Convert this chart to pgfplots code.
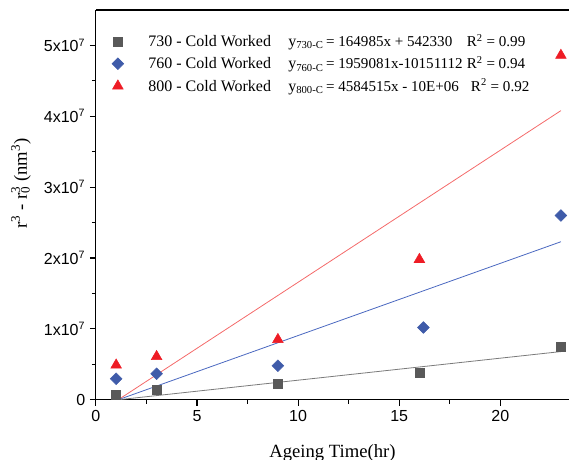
\documentclass[border=0pt]{standalone}
\usepackage{fontspec}
\setmainfont{Liberation Serif}
\setsansfont{Liberation Sans}
\usepackage{pgfplots}
\pgfplotsset{compat=1.18}

\definecolor{sqgrey}{HTML}{595959}
\definecolor{dmblue}{HTML}{3F5BA9}
\definecolor{trred}{HTML}{EE1C25}
\definecolor{lgrey}{HTML}{7A7A7A}
\definecolor{lblue}{HTML}{4A68C0}
\definecolor{lred}{HTML}{F46A6A}

% legend text: name, subscript, equation, gap, R^2
\newcommand{\ent}[5]{\hspace{16.5pt}#1\hspace{13pt}y\textsubscript{#2}{\fontsize{11.3}{12}\selectfont\,#3\hspace{#4}R\textsuperscript{2} = #5}}

\begin{document}
\begin{tikzpicture}
\begin{axis}[
  scale only axis,
  width=355pt, height=292.5pt,
  xmin=0, xmax=23.4,
  ymin=0, ymax=5.5e7,
  axis lines=left,
  axis line style={-, thick},
  tick align=outside,
  tick style={black, thick},
  major tick length=4.5pt,
  minor tick length=3pt,
  minor tick num=1,
  xtick={0,5,10,15,20},
  ytick={0,1e7,2e7,3e7,4e7,5e7},
  yticklabels={0,1x10\textsuperscript{7},2x10\textsuperscript{7},3x10\textsuperscript{7},4x10\textsuperscript{7},5x10\textsuperscript{7}},
  scaled y ticks=false,
  /pgf/number format/assume math mode=true,
  tick label style={font=\sffamily\fontsize{12}{14}\selectfont},
  xlabel={Ageing Time(hr)},
  ylabel={r\textsuperscript{3} - r\rlap{\textsubscript{0}}\textsuperscript{3} (nm\textsuperscript{3})},
  label style={font=\fontsize{14}{16}\selectfont},
  xlabel style={yshift=-10pt},
  ylabel style={at={(ticklabel cs:0.555)}, yshift=3pt},
  legend style={at={(0.025,0.952)}, anchor=north west, draw=none, fill=none,
    font=\fontsize{12}{14}\selectfont, row sep=2pt},
  legend cell align=left,
]
\addplot[only marks, mark=square*, mark size=3.4pt, color=sqgrey]
  coordinates {(1,0.07e7) (3,0.14e7) (9,0.226e7) (16,0.38e7) (23,0.75e7)};
\addlegendentry{\ent{730 - Cold Worked}{730-C}{= 164985x + 542330}{11pt}{0.99}}
\addplot[only marks, mark=square*, mark options={rotate=45}, mark size=3.1pt, color=dmblue]
  coordinates {(1,0.296e7) (3,0.367e7) (9,0.48e7) (16.2,1.02e7) (23,2.6e7)};
\addlegendentry{\ent{760 - Cold Worked}{760-C}{= 1959081x-10151112}{3pt}{0.94}}
\addplot[only marks, mark=triangle*, mark size=4.6pt, color=trred]
  coordinates {(1,0.49e7) (3,0.61e7) (9,0.85e7) (16,1.98e7) (23,4.86e7)};
\addlegendentry{\ent{800 - Cold Worked}{800-C}{= 4584515x - 10E+06}{9pt}{0.92}}
\addplot[lgrey, line width=0.6pt, forget plot] coordinates {(1.1,0) (23,0.68e7)};
\addplot[lblue, line width=0.6pt, forget plot] coordinates {(1.1,0) (23,2.23e7)};
\addplot[lred, line width=0.6pt, forget plot] coordinates {(1.1,0) (23,4.08e7)};
\draw[thick] (rel axis cs:0,1) -- (rel axis cs:1,1);
\end{axis}
\pgfresetboundingbox
\path ([shift={(-72pt,-45pt)}]current axis.south west) rectangle ([shift={(0pt,7.5pt)}]current axis.north east);
\end{tikzpicture}
\end{document}
